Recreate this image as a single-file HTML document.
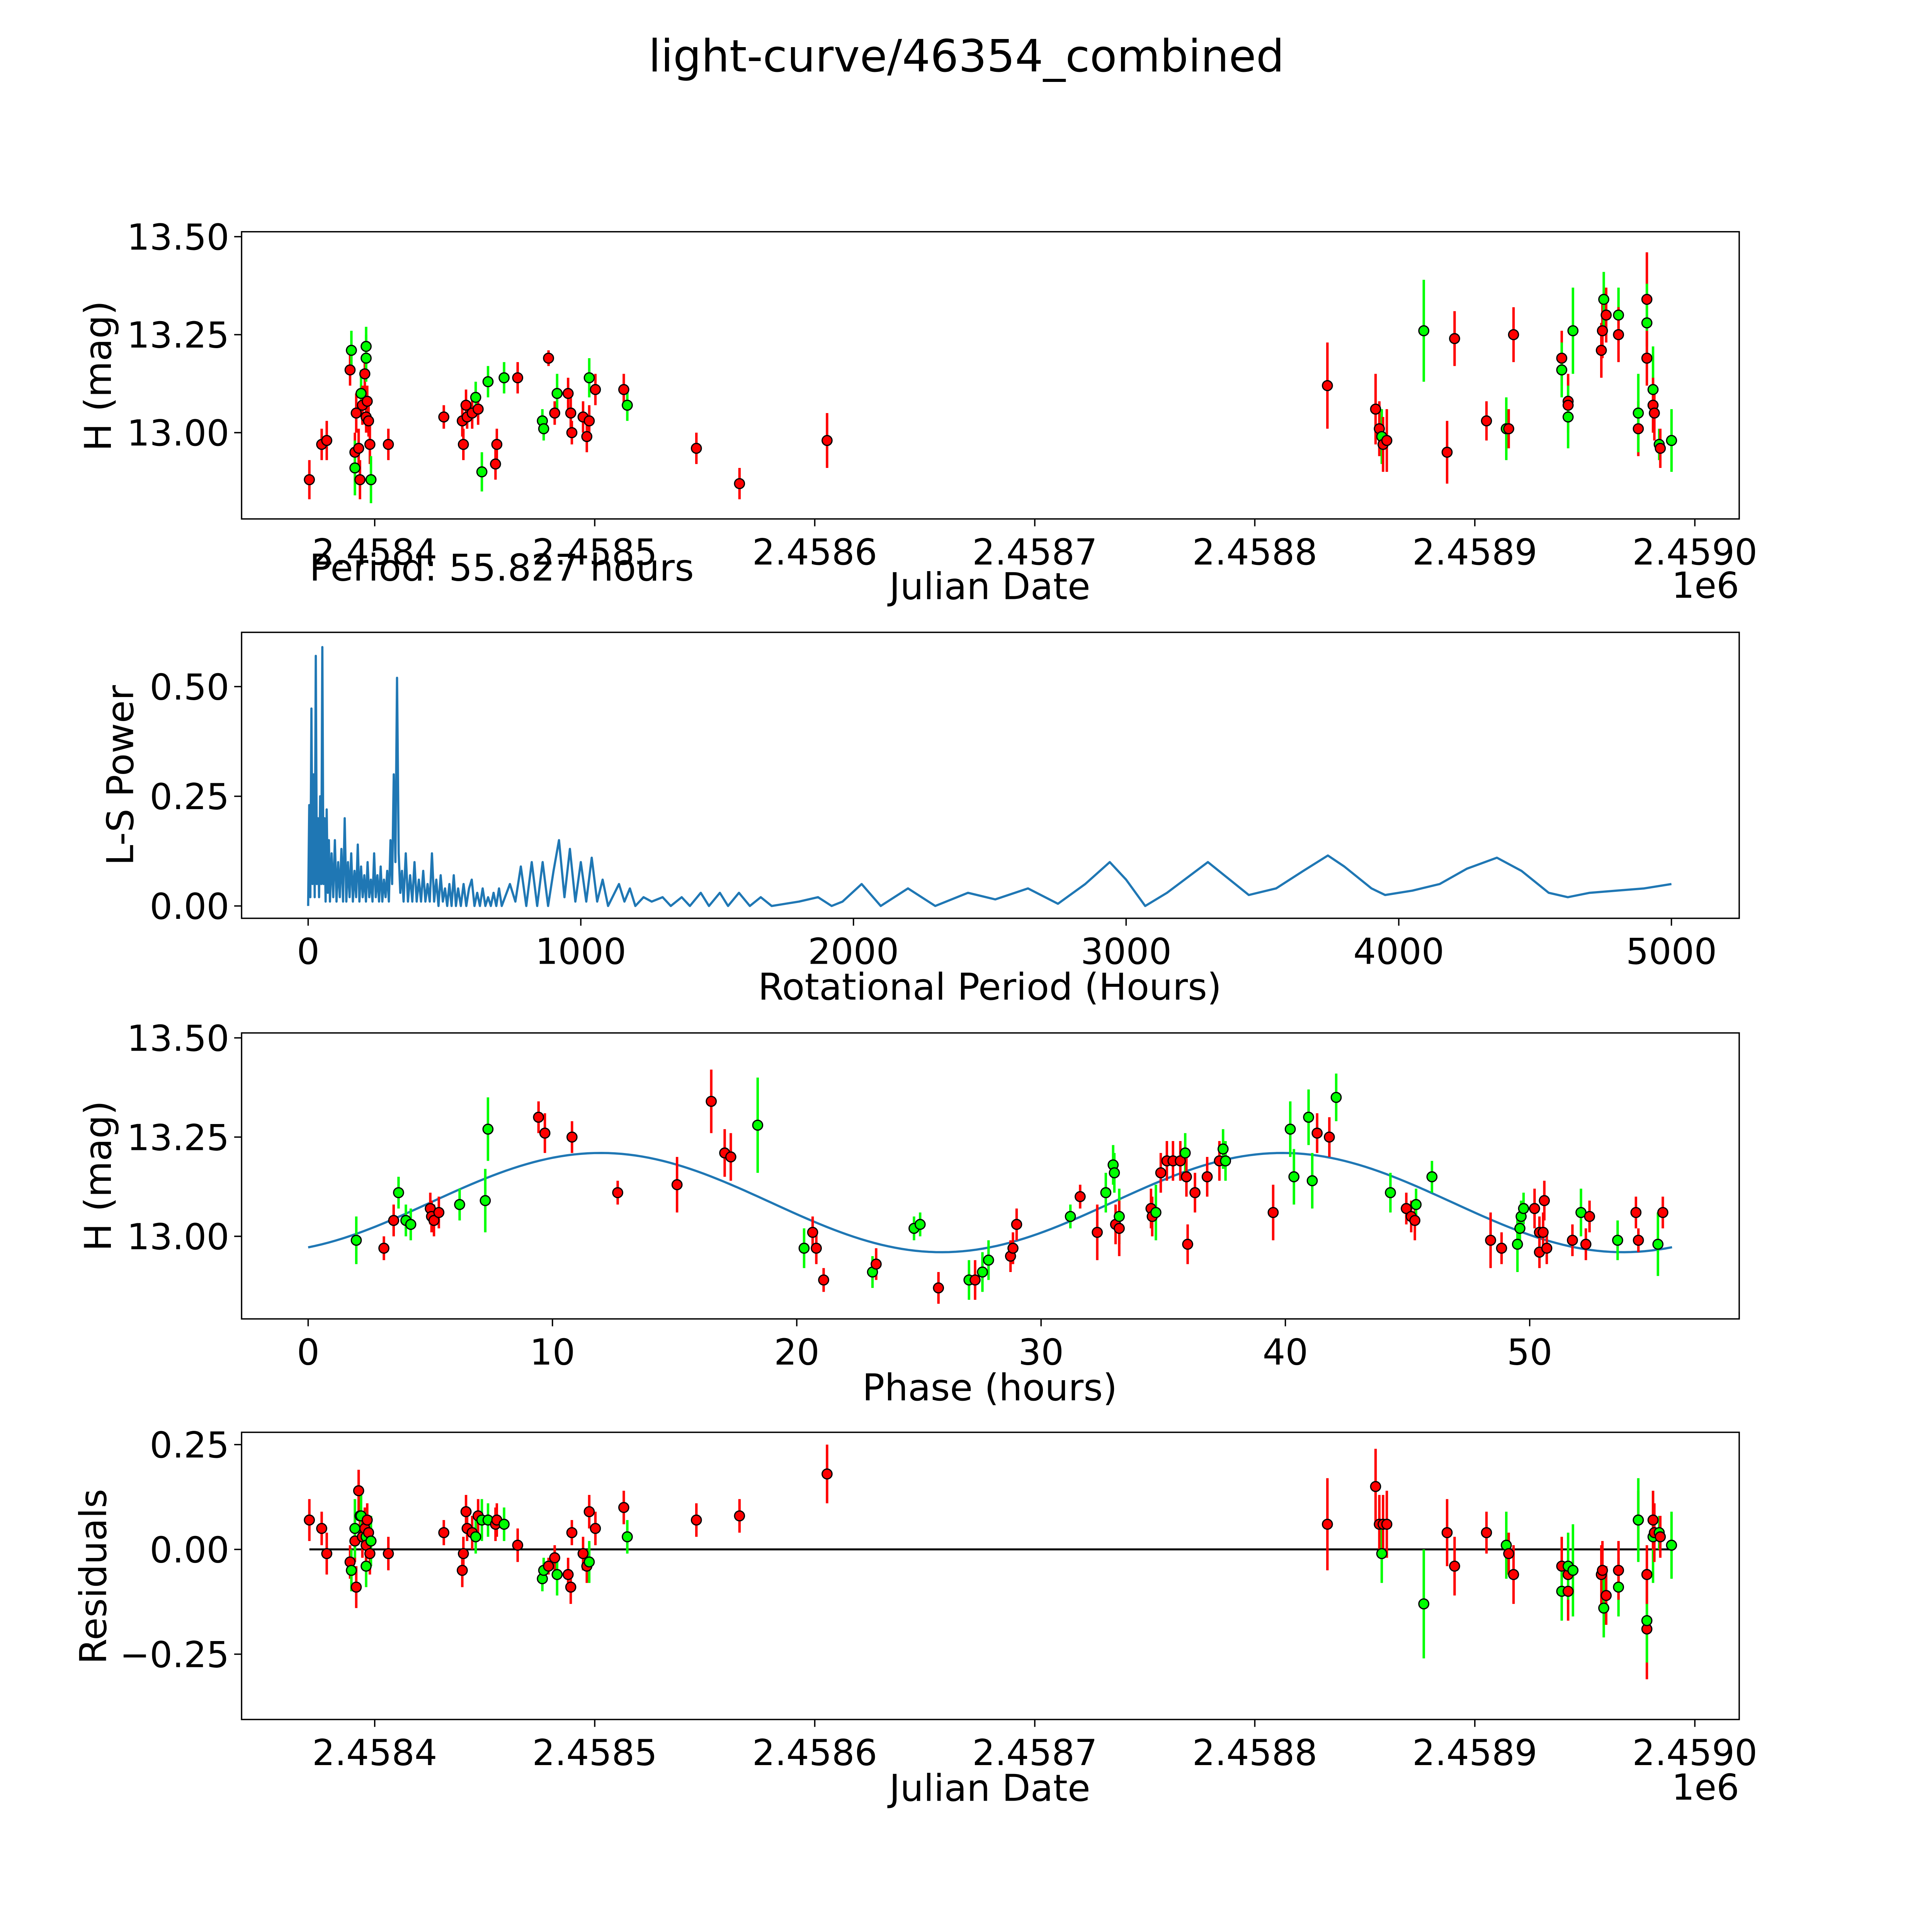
<!DOCTYPE html>
<html><head><meta charset="utf-8"><style>
html,body{margin:0;padding:0;background:#fff;overflow:hidden;width:100vw;height:100vh;}
svg{position:fixed;left:0;top:0;width:100vw;height:100vh;display:block;font-family:"DejaVu Sans","Liberation Sans",sans-serif;}
</style></head><body>
<svg id="fig" xmlns="http://www.w3.org/2000/svg" viewBox="0 0 1567.4 1567.4" preserveAspectRatio="none">
<rect width="1568" height="1568" fill="#fff"/>
<text x="784" y="58" font-size="36" text-anchor="middle">light-curve/46354_combined</text>
<g id="layer"></g>
</svg>
<script>
// ---- data: Julian date offset (days from 2458400), magnitude, error, filter ----
const jdDays = [-29.7,-24.1,-21.8,-11.2,-10.6,-9,-9,-8.4,-7.3,-6.7,-6.2,-5.6,-4.5,-3.9,-3.9,-3.9,-3.4,-2.8,-2.2,-1.7,6.2,31.4,39.8,40.3,41.5,42,44.3,45.9,47,48.7,51.5,54.9,55.5,58.8,64.97,76.2,76.8,79,81.8,82.9,87.9,89.1,89.6,94.7,96.4,97.5,97.5,100.3,113.2,114.8,146.2,165.8,205.6,433,454.9,456.6,457.7,458.3,460,476.8,487.4,490.8,505.3,514.3,515.4,517.6,539.5,539.5,542.4,542.4,542.4,544.6,557.5,558,558.6,559.7,565.3,565.3,574.3,574.3,578.2,578.2,578.2,581,581,581.6,583.8,584.3,589.4];
const mags = [12.88,12.97,12.98,13.16,13.21,12.95,12.91,13.05,12.96,12.88,13.10,13.07,13.15,13.22,13.19,13.04,13.08,13.03,12.97,12.88,12.97,13.04,13.03,12.97,13.07,13.04,13.05,13.09,13.06,12.90,13.13,12.92,12.97,13.14,13.14,13.03,13.01,13.19,13.05,13.10,13.10,13.05,13.00,13.04,12.99,13.03,13.14,13.11,13.11,13.07,12.96,12.87,12.98,13.12,13.06,13.01,12.99,12.97,12.98,13.26,12.95,13.24,13.03,13.01,13.01,13.25,13.19,13.16,13.08,13.07,13.04,13.26,13.21,13.26,13.34,13.30,13.30,13.25,13.01,13.05,13.34,13.28,13.19,13.11,13.07,13.05,12.97,12.96,12.98];
const errs = [0.05,0.04,0.05,0.04,0.05,0.05,0.07,0.05,0.05,0.05,0.06,0.05,0.05,0.05,0.06,0.04,0.04,0.04,0.05,0.06,0.04,0.03,0.04,0.04,0.04,0.03,0.04,0.04,0.04,0.05,0.04,0.04,0.04,0.04,0.04,0.03,0.03,0.02,0.03,0.05,0.04,0.04,0.03,0.04,0.04,0.04,0.05,0.04,0.04,0.04,0.04,0.04,0.07,0.11,0.09,0.07,0.07,0.07,0.08,0.13,0.08,0.07,0.05,0.08,0.05,0.07,0.07,0.07,0.07,0.07,0.08,0.11,0.07,0.07,0.07,0.07,0.07,0.07,0.07,0.10,0.12,0.10,0.07,0.11,0.07,0.07,0.04,0.05,0.08];
const filters = ['r','r','r','r','g','r','g','r','r','r','g','r','r','g','g','r','r','r','r','g','r','r','r','r','r','r','r','g','r','g','g','r','r','g','r','g','g','r','r','g','r','r','r','r','r','r','g','r','r','g','r','r','r','r','r','r','g','r','r','g','r','r','r','g','r','r','r','g','r','r','g','g','r','r','g','r','g','r','r','g','r','g','r','g','r','r','g','r','g'];
const residuals = [0.07,0.05,-0.01,-0.03,-0.05,0.02,0.05,-0.09,0.14,0.08,0.08,0.03,0.05,-0.04,0.03,0.01,0.07,0.04,-0.01,0.02,-0.01,0.04,-0.05,-0.01,0.09,0.05,0.04,0.03,0.08,0.07,0.07,0.06,0.07,0.06,0.01,-0.07,-0.05,-0.04,-0.02,-0.06,-0.06,-0.09,0.04,-0.01,-0.04,0.09,-0.03,0.05,0.10,0.03,0.07,0.08,0.18,0.06,0.15,0.06,-0.01,0.06,0.06,-0.13,0.04,-0.04,0.04,0.01,-0.01,-0.06,-0.04,-0.10,-0.06,-0.10,-0.04,-0.05,-0.06,-0.05,-0.14,-0.11,-0.09,-0.05,0.07,0.07,-0.19,-0.17,-0.06,0.03,0.07,0.04,0.04,0.03,0.01];
// ---- phase-folded data ----
const phases = [1.97,3.1,3.5,3.7,4.0,4.2,5.0,5.05,5.15,5.35,6.2,7.25,7.36,9.43,9.69,10.8,12.67,15.1,16.5,17.05,17.3,18.4,20.3,20.65,20.8,21.1,23.1,23.25,24.8,25.05,25.8,27.05,27.3,27.6,27.85,28.75,28.85,29.0,31.2,31.6,32.3,32.65,32.95,33.0,33.05,33.2,33.2,34.5,34.55,34.7,34.9,35.15,35.4,35.7,35.9,35.95,36.0,36.3,36.8,37.3,37.45,37.55,39.5,40.2,40.35,40.95,41.1,41.3,41.8,42.08,44.3,44.95,45.15,45.3,45.35,46.0,48.4,48.85,49.5,49.6,49.65,49.75,50.2,50.4,50.4,50.55,50.6,50.7,51.75,52.1,52.3,52.45,53.6,54.35,54.45,55.25,55.45];
const phaseMags = [12.99,12.97,13.04,13.11,13.04,13.03,13.07,13.05,13.04,13.06,13.08,13.09,13.27,13.30,13.26,13.25,13.11,13.13,13.34,13.21,13.20,13.28,12.97,13.01,12.97,12.89,12.91,12.93,13.02,13.03,12.87,12.89,12.89,12.91,12.94,12.95,12.97,13.03,13.05,13.10,13.01,13.11,13.18,13.16,13.03,13.05,13.02,13.07,13.05,13.06,13.16,13.19,13.19,13.19,13.21,13.15,12.98,13.11,13.15,13.19,13.22,13.19,13.06,13.27,13.15,13.30,13.14,13.26,13.25,13.35,13.11,13.07,13.05,13.04,13.08,13.15,12.99,12.97,12.98,13.02,13.05,13.07,13.07,13.01,12.96,13.01,13.09,12.97,12.99,13.06,12.98,13.05,12.99,13.06,12.99,12.98,13.06];
const phaseErrs = [0.06,0.03,0.04,0.04,0.04,0.04,0.04,0.04,0.04,0.04,0.04,0.08,0.08,0.04,0.05,0.04,0.03,0.07,0.08,0.06,0.06,0.12,0.05,0.04,0.04,0.03,0.04,0.04,0.03,0.03,0.04,0.05,0.05,0.05,0.05,0.04,0.04,0.04,0.03,0.03,0.07,0.05,0.05,0.05,0.05,0.07,0.07,0.05,0.05,0.07,0.05,0.05,0.05,0.05,0.05,0.05,0.05,0.05,0.05,0.05,0.05,0.05,0.07,0.07,0.07,0.07,0.07,0.05,0.05,0.06,0.05,0.04,0.04,0.05,0.04,0.04,0.07,0.04,0.07,0.05,0.04,0.04,0.05,0.04,0.04,0.05,0.05,0.04,0.04,0.06,0.04,0.04,0.05,0.04,0.03,0.08,0.04];
const phaseFilters = ['g','r','r','g','g','g','r','r','r','r','g','g','g','r','r','r','r','r','r','r','r','g','g','r','r','r','g','r','g','g','r','g','r','g','g','r','r','r','g','r','r','g','g','g','r','g','r','r','r','g','r','r','r','r','g','r','r','r','r','r','g','g','r','g','g','g','g','r','r','g','g','r','r','r','g','g','r','r','g','g','g','g','r','r','r','r','r','r','r','g','r','r','g','r','r','g','r'];
// ---- periodogram ----
const periods = [0,4,8,12,16,20,24,28,32,36,40,44,48,52,56,60,64,68,72,76,80,86,92,98,104,110,116,122,128,134,140,146,152,158,164,170,176,182,188,194,200,206,212,218,224,230,236,242,248,254,260,266,272,278,284,290,296,302,308,314,320,326,332,338,344,350,358,366,374,382,390,398,406,414,422,430,438,446,454,462,470,478,486,494,502,510,518,526,534,542,550,560,570,580,590,600,610,620,630,640,650,660,670,680,690,700,710,740,760,780,800,820,840,860,880,900,920,940,960,980,1000,1020,1040,1060,1080,1100,1140,1160,1180,1200,1230,1260,1300,1330,1370,1400,1440,1470,1510,1540,1580,1620,1660,1700,1800,1870,1920,1960,2030,2100,2200,2300,2420,2520,2640,2750,2850,2940,3000,3070,3150,3300,3380,3450,3550,3650,3740,3800,3900,3950,4050,4150,4250,4360,4450,4550,4620,4700,4800,4900,5000];
const powers = [0,0.23,0.02,0.45,0.05,0.3,0.02,0.57,0.05,0.2,0.02,0.25,0.05,0.59,0.05,0.2,0.01,0.22,0.03,0.15,0.01,0.12,0.02,0.15,0.01,0.1,0.02,0.13,0.01,0.2,0.01,0.1,0.02,0.12,0.01,0.08,0.02,0.14,0.01,0.09,0.02,0.07,0.01,0.1,0.02,0.06,0.01,0.12,0.02,0.07,0.01,0.09,0.01,0.06,0.02,0.08,0.01,0.15,0.05,0.3,0.1,0.52,0.12,0.03,0.08,0.01,0.12,0.01,0.07,0.01,0.1,0.01,0.06,0.01,0.08,0.01,0.05,0.01,0.12,0.01,0.06,0,0.07,0.01,0.04,0,0.05,0,0.07,0,0.04,0,0.05,0,0.04,0.06,0,0.03,0,0.04,0,0.02,0,0.03,0,0.04,0,0.05,0.01,0.09,0,0.1,0,0.1,0,0.08,0.15,0.02,0.13,0.01,0.1,0.01,0.11,0.01,0.06,0,0.05,0.01,0.04,0,0.02,0.01,0.02,0,0.02,0,0.03,0,0.03,0,0.03,0,0.02,0,0.01,0.02,0,0.01,0.05,0,0.04,0,0.03,0.015,0.04,0.005,0.05,0.1,0.06,0,0.03,0.1,0.06,0.025,0.04,0.08,0.115,0.09,0.04,0.025,0.035,0.05,0.085,0.11,0.08,0.03,0.02,0.03,0.035,0.04,0.05];
const period = 55.827;
const jdTicks = [0,100,200,300,400,500,600];
const jdTickLabels = ['2.4584','2.4585','2.4586','2.4587','2.4588','2.4589','2.4590'];

const NS='http://www.w3.org/2000/svg';
const layer=document.getElementById('layer');
function mk(tag,attrs,parent){const e=document.createElementNS(NS,tag);for(const k in attrs)e.setAttribute(k,attrs[k]);(parent||layer).appendChild(e);return e;}
const X0=196,X1=1411;
function panel(name,y0,y1){
  const g=mk('g',{});
  
  
  mk('rect',{x:X0,y:y0,width:X1-X0,height:y1-y0,fill:'none',stroke:'#000','stroke-width':1.1},g);
  return g;
}
function xTicks(g,vals,labels,sx,y1){
  vals.forEach((v,i)=>{const x=sx(v);
    mk('line',{x1:x,x2:x,y1:y1,y2:y1+6,stroke:'#000','stroke-width':1.1},g);
    const t=mk('text',{x:x,y:y1+37,'font-size':29,'text-anchor':'middle'},g);t.textContent=labels[i];
    
    });
}
function yTicks(g,vals,labels,sy){
  vals.forEach((v,i)=>{const y=sy(v);
    mk('line',{x1:X0-6,x2:X0,y1:y,y2:y,stroke:'#000','stroke-width':1.1},g);
    const t=mk('text',{x:X0-10,y:y+10.5,'font-size':29,'text-anchor':'end'},g);t.textContent=labels[i];
    
    });
}
function label(g,txt,x,y,rot,name){
  const t=mk('text',{x:x,y:y,'font-size':30,'text-anchor':'middle',transform:rot?`rotate(-90 ${x} ${y})`:''},g);
  t.textContent=txt;
  
  
}
function points(g,xs,ys,es,fs,sx,sy){
  xs.forEach((xv,i)=>{const x=sx(xv),col=fs[i]==='g'?'#00ff00':'#ff0000';
    const bar=mk('line',{x1:x,x2:x,y1:sy(ys[i]-es[i]),y2:sy(ys[i]+es[i]),stroke:col,'stroke-width':2},g);
    
    
  });
  xs.forEach((xv,i)=>{const col=fs[i]==='g'?'#00ff00':'#ff0000';
    const c=mk('circle',{cx:sx(xv),cy:sy(ys[i]),r:4,fill:col,stroke:'#000','stroke-width':1},g);
    
    
  });
}
const sxJD=d=>304+d*1.785;
// Panel 1
{const g=panel('light-curve-panel',188,421);
 const sy=m=>351-(m-13)*318;
 xTicks(g,jdTicks,jdTickLabels,sxJD,421);
 yTicks(g,[13,13.25,13.5],['13.00','13.25','13.50'],sy);
 label(g,'Julian Date',803,486,false,'x-axis-title');
 label(g,'H (mag)',90,305,true,'y-axis-title');
 const o=mk('text',{x:1411,y:485,'font-size':29,'text-anchor':'end'},g);o.textContent='1e6';
 
 
 points(g,jdDays,mags,errs,filters,sxJD,sy);
 const p=mk('text',{x:251,y:471,'font-size':30},g);p.textContent='Period: 55.827 hours';
 
 
}
// Panel 2
{const g=panel('periodogram-panel',513,745);
 const sx=p=>250+p*0.2212, sy=v=>735-v*356;
 xTicks(g,[0,1000,2000,3000,4000,5000],['0','1000','2000','3000','4000','5000'],sx,745);
 yTicks(g,[0,0.25,0.5],['0.00','0.25','0.50'],sy);
 label(g,'Rotational Period (Hours)',803,811,false,'x-axis-title');
 label(g,'L-S Power',108,629,true,'y-axis-title');
 const pl=mk('polyline',{points:periods.map((p,i)=>sx(p)+','+sy(powers[i])).join(' '),fill:'none',stroke:'#1f77b4','stroke-width':1.8,'stroke-linejoin':'round'},g);
 
 
}
// Panel 3
{const g=panel('phase-panel',838,1070);
 const sx=p=>250+p*19.82, sy=m=>1003-(m-13)*322;
 xTicks(g,[0,10,20,30,40,50],['0','10','20','30','40','50'],sx,1070);
 yTicks(g,[13,13.25,13.5],['13.00','13.25','13.50'],sy);
 label(g,'Phase (hours)',803,1136,false,'x-axis-title');
 label(g,'H (mag)',90,954,true,'y-axis-title');
 const pts=[];for(let i=0;i<=200;i++){const p=period*i/200;pts.push(sx(p)+','+sy(13.085+0.125*Math.sin(2*Math.PI*(p-5)/27.9)));}
 const m=mk('polyline',{points:pts.join(' '),fill:'none',stroke:'#1f77b4','stroke-width':1.8},g);
 
 
 points(g,phases,phaseMags,phaseErrs,phaseFilters,sx,sy);
}
// Panel 4
{const g=panel('residuals-panel',1162,1395);
 const sy=r=>1257-r*340;
 xTicks(g,jdTicks,jdTickLabels,sxJD,1395);
 yTicks(g,[-0.25,0,0.25],['\u22120.25','0.00','0.25'],sy);
 label(g,'Julian Date',803,1461,false,'x-axis-title');
 label(g,'Residuals',86,1279,true,'y-axis-title');
 const o=mk('text',{x:1411,y:1460,'font-size':29,'text-anchor':'end'},g);o.textContent='1e6';
 
 
 const z=mk('line',{x1:sxJD(Math.min(...jdDays)),x2:sxJD(Math.max(...jdDays)),y1:sy(0),y2:sy(0),stroke:'#000','stroke-width':1.6},g);
 
 
 points(g,jdDays,residuals,errs,filters,sxJD,sy);
}
</script>
</body></html>
